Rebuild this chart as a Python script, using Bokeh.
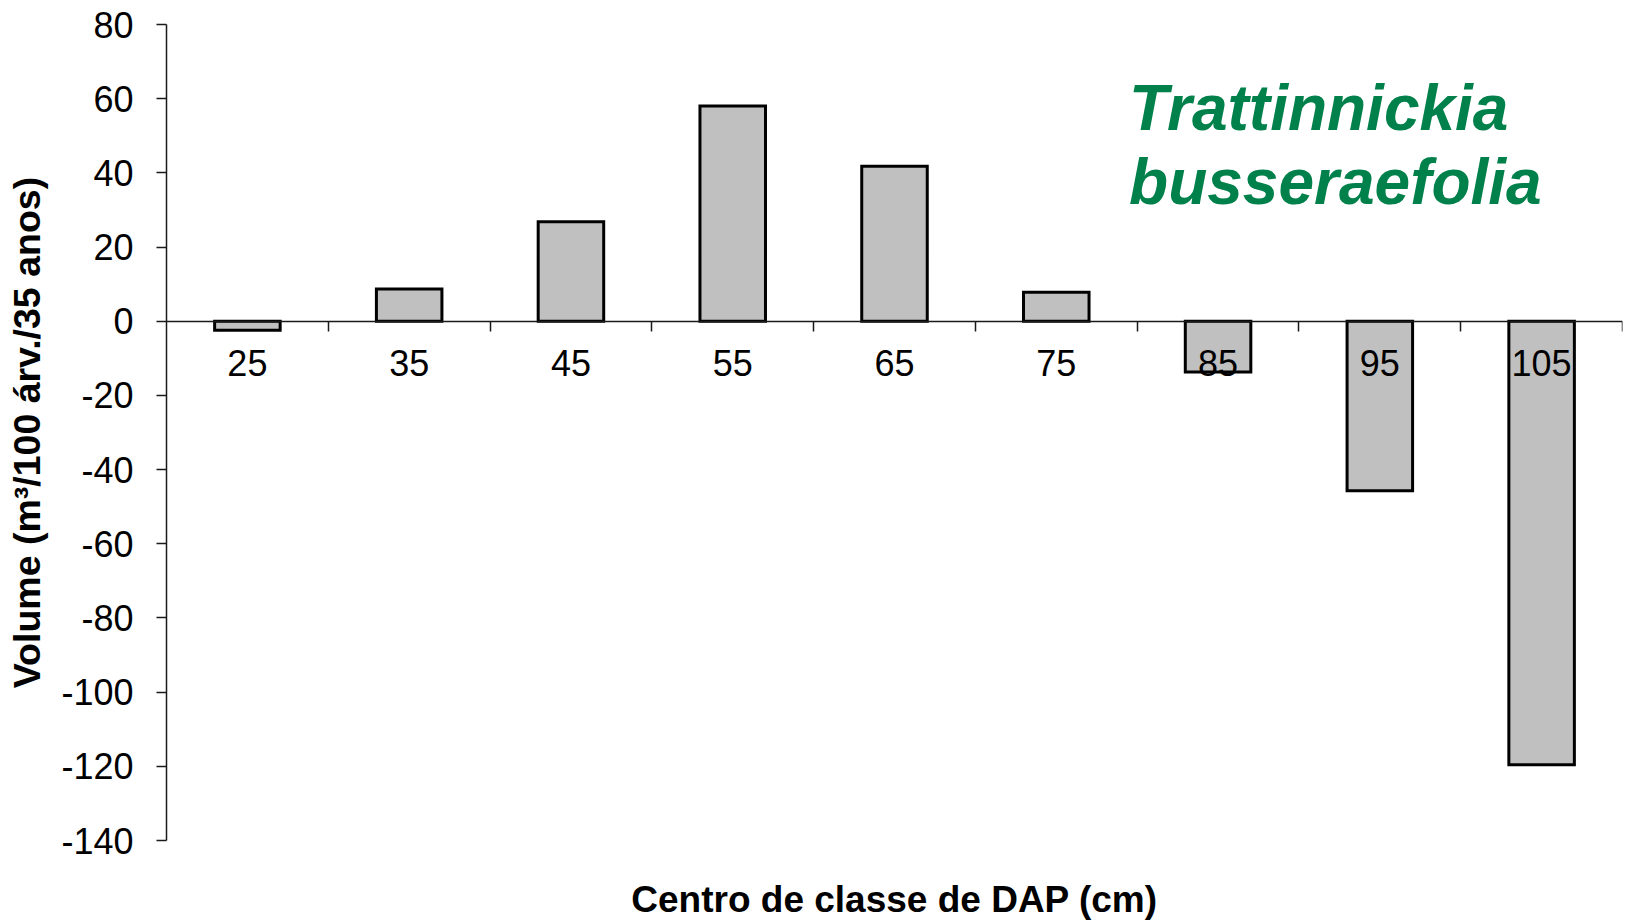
from bokeh.plotting import figure
from bokeh.models import Range1d, FixedTicker, LinearAxis, Label
from bokeh.embed import file_html
from bokeh.resources import INLINE

# ---- data ----
dap = [25, 35, 45, 55, 65, 75, 85, 95, 105]
volume = [-2.4, 8.7, 26.8, 58.0, 41.8, 7.8, -13.7, -45.7, -119.6]
y_ticks = [80, 60, 40, 20, 0, -20, -40, -60, -80, -100, -120, -140]
class_width = 10
species = ["Trattinnickia", "busseraefolia"]
x_title = "Centro de classe de DAP (cm)"
y_title = "Volume (m³/100 árv./35 anos)"

FONT = "Liberation Sans"
GREEN = "#00804A"
AXIS = "#1a1a1a"

bounds = [d - class_width / 2 for d in dap] + [dap[-1] + class_width / 2]

p = figure(width=1628, height=922, output_backend="svg", toolbar_location=None,
           x_range=Range1d(bounds[0], bounds[-1]), y_range=Range1d(y_ticks[-1], y_ticks[0]),
           x_axis_location=None, y_axis_location="left",
           min_border_left=166, min_border_right=6, min_border_top=24, min_border_bottom=79)
p.outline_line_color = None
p.grid.visible = False
p.background_fill_color = "white"

ya = p.yaxis[0]
ya.ticker = FixedTicker(ticks=y_ticks)
ya.major_label_overrides = {v: str(v) for v in y_ticks}
ya.major_tick_in = 0
ya.major_tick_out = 10
ya.minor_tick_line_color = None
ya.axis_line_color = AXIS
ya.axis_line_width = 1.5
ya.major_tick_line_color = AXIS
ya.major_tick_line_width = 1.5
ya.major_label_standoff = 23
ya.major_label_text_font = FONT
ya.major_label_text_font_size = "36px"
ya.major_label_text_color = "black"
ya.axis_label = y_title
ya.axis_label_text_font = FONT
ya.axis_label_text_font_size = "37.5px"
ya.axis_label_text_font_style = "bold"
ya.axis_label_text_color = "black"
ya.axis_label_standoff = 10

p.vbar(x=dap, top=volume, bottom=0, width=class_width * 0.405,
       fill_color="#C0C0C0", line_color="black", line_width=3, line_join="miter")

# category axis drawn along the zero line, ticks at the class boundaries
xa = LinearAxis(fixed_location=0, ticker=FixedTicker(ticks=dap, minor_ticks=bounds[1:]))
xa.major_tick_in = 0
xa.major_tick_out = 0
xa.major_tick_line_color = None
xa.minor_tick_in = 0
xa.minor_tick_out = 10
xa.minor_tick_line_color = AXIS
xa.minor_tick_line_width = 1.5
xa.axis_line_color = AXIS
xa.axis_line_width = 1.5
xa.major_label_standoff = 19
xa.major_label_text_font = FONT
xa.major_label_text_font_size = "36px"
xa.major_label_text_color = "black"
p.add_layout(xa, "below")

# x-axis title under the frame (axis without ticks)
xt = LinearAxis(ticker=FixedTicker(ticks=[]))
xt.axis_line_color = None
xt.major_tick_line_color = None
xt.minor_tick_line_color = None
xt.major_tick_out = 0
xt.major_tick_in = 0
xt.minor_tick_out = 0
xt.major_label_standoff = 0
xt.major_label_text_font_size = "0px"
xt.axis_label = x_title
xt.axis_label_text_font = FONT
xt.axis_label_text_font_size = "37px"
xt.axis_label_text_font_style = "bold"
xt.axis_label_text_color = "black"
xt.axis_label_standoff = 38
p.add_layout(xt, "below")

p.add_layout(Label(x=79.5, y=57.6, text=species[0], text_font=FONT, text_font_size="64px",
                   text_font_style="bold italic", text_color=GREEN, text_baseline="alphabetic"))
p.add_layout(Label(x=79.5, y=37.5, text=species[1], text_font=FONT, text_font_size="64px",
                   text_font_style="bold italic", text_color=GREEN, text_baseline="alphabetic"))

open("out.html", "w").write(file_html(p, INLINE))
